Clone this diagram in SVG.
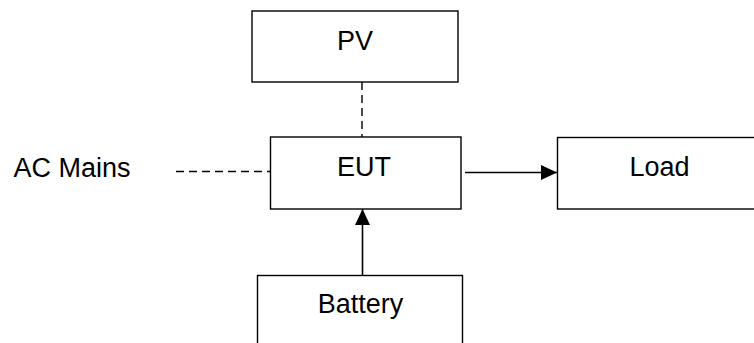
<svg xmlns="http://www.w3.org/2000/svg" width="754" height="343" viewBox="0 0 754 343">
<defs>
<style>
.box{fill:#fff;stroke:#000;stroke-width:1.4}
.lbl{font-family:"Liberation Sans",Arial,sans-serif;font-size:27px;fill:#000;text-anchor:middle}
.dash{fill:none;stroke:#000;stroke-width:1.4;stroke-dasharray:8 5}
.solid{fill:none;stroke:#000;stroke-width:1.6}
</style>
<marker id="ah" viewBox="0 0 16 15" refX="16" refY="7.5" markerWidth="16" markerHeight="15" markerUnits="userSpaceOnUse" orient="auto">
<path d="M0,0 L16,7.5 L0,15 Z" fill="#000"/>
</marker>
</defs>
<rect width="754" height="343" fill="#fff"/>
<g id="connectors">
<line class="dash" x1="362" y1="82" x2="362" y2="137"/>
<line class="dash" x1="176" y1="171.5" x2="270" y2="171.5"/>
<line class="solid" x1="465" y1="172.5" x2="557" y2="172.5" marker-end="url(#ah)"/>
<line class="solid" x1="362.5" y1="275" x2="362.5" y2="209" marker-end="url(#ah)"/>
</g>
<g id="pv">
<rect class="box" x="252" y="11" width="206" height="71"/>
<text class="lbl" x="355" y="50">PV</text>
</g>
<g id="eut">
<rect class="box" x="270.5" y="137" width="190.5" height="72"/>
<text class="lbl" x="364" y="176">EUT</text>
</g>
<g id="load">
<rect class="box" x="557.5" y="137.5" width="205" height="71.5"/>
<text class="lbl" x="659.5" y="176">Load</text>
</g>
<g id="battery">
<rect class="box" x="257.5" y="275.5" width="205" height="80"/>
<text class="lbl" x="360.5" y="313">Battery</text>
</g>
<g id="acmains">
<text class="lbl" x="72" y="177">AC Mains</text>
</g>
</svg>
